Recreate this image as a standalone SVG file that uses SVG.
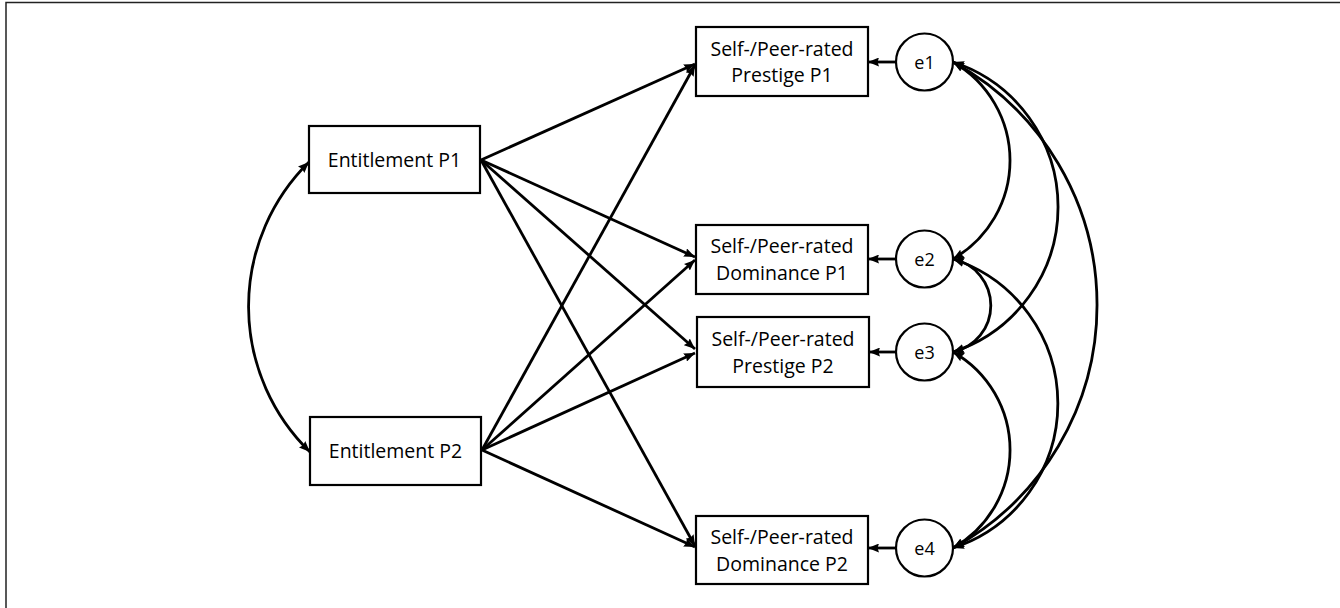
<svg xmlns="http://www.w3.org/2000/svg" width="1340" height="608" viewBox="0 0 1340 608">
  <style>
    .box { fill: #ffffff; stroke: #000000; stroke-width: 2.2; }
    .circ { fill: #ffffff; stroke: #000000; stroke-width: 2.2; }
    .lbl { font-family: "Open Sans", "Liberation Sans", sans-serif; font-size: 19.5px; fill: #000000; text-anchor: middle; }
    .elbl { font-family: "Open Sans", "Liberation Sans", sans-serif; font-size: 18px; fill: #000000; text-anchor: middle; }
    .con { fill: none; stroke: #000000; stroke-width: 2.8; marker-end: url(#ah); }
    .cov { fill: none; stroke: #000000; stroke-width: 2.8; marker-start: url(#ah); marker-end: url(#ah); }
    .frame { fill: none; stroke: #222222; stroke-width: 1.5; }
  </style>
  <defs>
    <marker id="ah" markerUnits="userSpaceOnUse" markerWidth="11" markerHeight="9" viewBox="0 0 11 9" refX="11" refY="4.5" orient="auto-start-reverse">
      <path d="M0,0 L11,4.5 L0,9 L1.5,4.5 z" fill="#000000"/>
    </marker>
  </defs>
  <rect x="0" y="0" width="1340" height="608" fill="#ffffff"/>
  <path class="frame" d="M6,608 V2.5 H1340"/>

  <g id="connectors">
    <line class="con" x1="481" y1="160" x2="695" y2="64"/>
    <line class="con" x1="481" y1="160" x2="695" y2="257"/>
    <line class="con" x1="481" y1="160" x2="695" y2="349"/>
    <line class="con" x1="481" y1="160" x2="695" y2="546"/>
    <line class="con" x1="482" y1="450" x2="695" y2="65"/>
    <line class="con" x1="482" y1="450" x2="695" y2="260"/>
    <line class="con" x1="482" y1="450" x2="695" y2="353"/>
    <line class="con" x1="482" y1="450" x2="695" y2="547"/>
    <line class="con" x1="896" y1="62" x2="868" y2="62"/>
    <line class="con" x1="896" y1="259" x2="868" y2="259"/>
    <line class="con" x1="896" y1="352" x2="869" y2="352"/>
    <line class="con" x1="896" y1="548" x2="868" y2="548"/>
    <path class="cov" d="M309,162 A203,203 0 0 0 310,452"/>
    <path class="cov" d="M953,62 A113.6,113.6 0 0 1 953,259"/>
    <path class="cov" d="M953,62 A152.6,152.6 0 0 1 953,352"/>
    <path class="cov" d="M953,62 A277,277 0 0 1 953,548"/>
    <path class="cov" d="M953,259 A47.5,47.5 0 0 1 953,352"/>
    <path class="cov" d="M953,259 A152,152 0 0 1 953,548"/>
    <path class="cov" d="M953,352 A112.7,112.7 0 0 1 953,548"/>
  </g>

  <g id="ent1">
    <rect class="box" x="309" y="126" width="171" height="67"/>
    <text class="lbl" x="394.5" y="167">Entitlement P1</text>
  </g>
  <g id="ent2">
    <rect class="box" x="310" y="417" width="171" height="68"/>
    <text class="lbl" x="395.5" y="458">Entitlement P2</text>
  </g>
  <g id="prestige1">
    <rect class="box" x="696" y="27" width="172" height="69"/>
    <text class="lbl" x="782" y="55.5">Self-/Peer-rated</text>
    <text class="lbl" x="782" y="82">Prestige P1</text>
  </g>
  <g id="dominance1">
    <rect class="box" x="696" y="225" width="172" height="69"/>
    <text class="lbl" x="782" y="253">Self-/Peer-rated</text>
    <text class="lbl" x="782" y="280">Dominance P1</text>
  </g>
  <g id="prestige2">
    <rect class="box" x="697" y="317" width="172" height="70"/>
    <text class="lbl" x="783" y="345.5">Self-/Peer-rated</text>
    <text class="lbl" x="783" y="372.5">Prestige P2</text>
  </g>
  <g id="dominance2">
    <rect class="box" x="696" y="516" width="172" height="68"/>
    <text class="lbl" x="782" y="543.5">Self-/Peer-rated</text>
    <text class="lbl" x="782" y="570.5">Dominance P2</text>
  </g>
  <g id="e1">
    <circle class="circ" cx="924.5" cy="62" r="28.5"/>
    <text class="elbl" x="924.5" y="68.5">e1</text>
  </g>
  <g id="e2">
    <circle class="circ" cx="924.5" cy="259" r="28.5"/>
    <text class="elbl" x="924.5" y="265.5">e2</text>
  </g>
  <g id="e3">
    <circle class="circ" cx="924.5" cy="352" r="28.5"/>
    <text class="elbl" x="924.5" y="358.5">e3</text>
  </g>
  <g id="e4">
    <circle class="circ" cx="924.5" cy="548" r="28.5"/>
    <text class="elbl" x="924.5" y="554.5">e4</text>
  </g>
</svg>
